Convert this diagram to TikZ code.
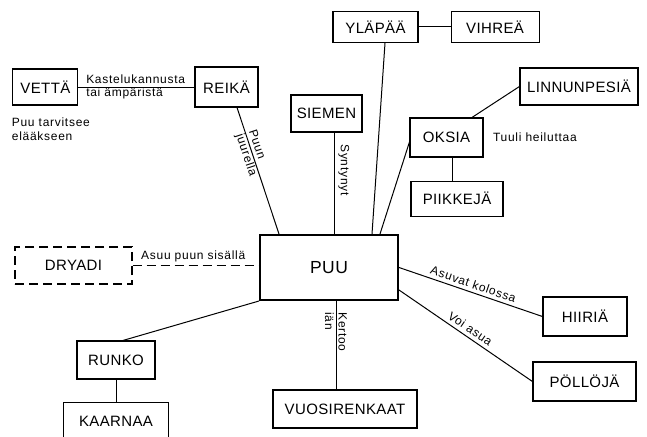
\documentclass[tikz,border=0pt]{standalone}
\usepackage{fontspec}
\setmainfont{Liberation Sans}
\newfontfamily\boxfont{Liberation Sans}[LetterSpace=2.5]
\newfontfamily\lblfont{Liberation Sans}[LetterSpace=6]
\usetikzlibrary{positioning}

\begin{document}
\begin{tikzpicture}[
    x=1pt, y=-1pt,
    box/.style={rectangle, draw, line width=1.1pt, minimum height=37pt, inner sep=0pt, font=\boxfont\fontsize{15}{18}\selectfont},
    mainbox/.style={box, line width=2pt, minimum width=138pt, minimum height=65pt, font=\boxfont\fontsize{17.5}{21}\selectfont},
    dashbox/.style={box, dash pattern=on 9pt off 5pt},
    link/.style={line width=1pt},
    dashlink/.style={link, dash pattern=on 9pt off 5pt},
    lbl/.style={font=\lblfont\fontsize{12}{13.5}\selectfont, align=left}
]
    \fill[white] (0,0) rectangle (647,436);
    \useasboundingbox (0,0) rectangle (647,436);
    \clip (0,0) rectangle (647,436);

    \node[mainbox] (puu) at (329,267.5) {PUU};
    \node[box, minimum width=63pt, minimum height=40pt] (reika) at (226.5,87) {REIKÄ};
    \node[box, minimum width=65pt, minimum height=36pt, left=116pt of reika] (vetta) {VETTÄ};
    \node[box, minimum width=71pt] (siemen) at (326.5,113.5) {SIEMEN};
    \node[box, minimum width=85pt, minimum height=31pt] (ylapaa) at (375.5,27) {YLÄPÄÄ};
    \node[box, minimum width=88pt, minimum height=31pt, right=32pt of ylapaa] (vihrea) {VIHREÄ};
    \node[box, minimum width=118pt] (linnunpesia) at (579,86.5) {LINNUNPESIÄ};
    \node[box, minimum width=73pt, minimum height=39pt] (oksia) at (446.5,137.5) {OKSIA};
    \node[box, minimum width=92pt, minimum height=35pt, below=23pt of oksia, xshift=10.5pt] (piikkeja) {PIIKKEJÄ};
    \node[dashbox, minimum width=117pt] (dryadi) at (73.5,265.5) {DRYADI};
    \node[box, minimum width=78pt, minimum height=38pt] (runko) at (116,360) {RUNKO};
    \node[box, minimum width=105pt, minimum height=38pt, below=22pt of runko] (kaarnaa) {KAARNAA};
    \node[box, minimum width=144pt, minimum height=38pt] (vuosirenkaat) at (345,409) {VUOSIRENKAAT};
    \node[box, minimum width=84pt, minimum height=39pt] (hiiria) at (585,316.5) {HIIRIÄ};
    \node[box, minimum width=103pt, minimum height=39pt] (pollo) at (584.5,381.5) {PÖLLÖJÄ};
    \node[lbl, anchor=north west] (tarve) at ([xshift=-4pt, yshift=-9pt]vetta.south west) {Puu tarvitsee\\elääkseen};
    \node[lbl, right=6pt of oksia] (tuuli) {Tuuli heiluttaa};

    \draw[link] (vetta) -- node[lbl, pos=0, anchor=west, xshift=4pt] {Kastelukannusta\\tai ämpäristä} (reika);
    \draw[link] ([xshift=10.5pt]reika.south) -- node[lbl, pos=.36, sloped] {Puun\\juurella} ([xshift=-50pt]puu.north);
    \draw[link] ([xshift=8pt]siemen.south) -- node[lbl, pos=.37, rotate=-90, above] {Syntynyt} ([xshift=8pt]siemen.south |- puu.north);
    \draw[link] ([xshift=9.5pt]ylapaa.south) -- ([xshift=43pt]puu.north);
    \draw[link] (ylapaa) -- (vihrea);
    \draw[link] ([yshift=-4.5pt]oksia.west) -- ([xshift=51pt]puu.north);
    \draw[link] ([xshift=25.5pt]oksia.north) -- (linnunpesia.west);
    \draw[link] ([xshift=5.5pt]oksia.south) -- ([xshift=5.5pt]oksia.south |- piikkeja.north);
    \draw[dashlink] (dryadi.east) -- node[lbl, pos=.48, above] {Asuu puun sisällä} (dryadi.east -| puu.west);
    \draw[link] ([xshift=7pt]runko.north) -- (puu.south west);
    \draw[link] (runko) -- (kaarnaa);
    \draw[link] ([xshift=7pt]puu.south) -- node[lbl, pos=.35, rotate=-90] {Kertoo\\iän} ([xshift=7pt]puu.south |- vuosirenkaat.north);
    \draw[link] (puu.east) -- node[lbl, sloped, above] {Asuvat kolossa} (hiiria.west);
    \draw[link] ([yshift=-22.5pt]puu.east) -- node[lbl, sloped, above] {Voi asua} (pollo.west);
\end{tikzpicture}
\end{document}
